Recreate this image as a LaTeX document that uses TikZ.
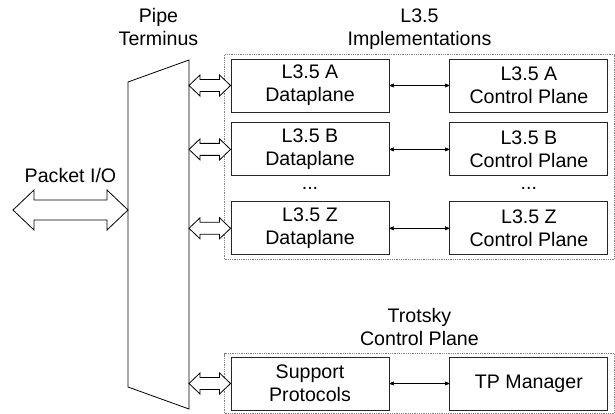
\documentclass[tikz,border=0pt]{standalone}
\usepackage{fontspec}
\setmainfont{Liberation Sans}
\usetikzlibrary{shapes,arrows,positioning,fit,calc}
\tikzset{%
blk/.style={draw=black!85, line width=0.9pt, minimum width=158pt, minimum height=53pt, inner sep=0pt, align=center, font=\fontsize{19.6}{23.3}\selectfont},
grp/.style={draw=gray, densely dotted, line width=0.8pt, inner xsep=6pt, inner ysep=4pt},
ttl/.style={align=center, inner sep=0pt, text depth=0pt, font=\fontsize{19.6}{23.3}\selectfont},
pt/.style={draw=black, line width=0.7pt, <->, >=stealth'},
fat/.style={draw=black, line width=0.8pt, fill=white, line join=miter}
}
\newcommand{\fatarrow}[5]{% ends, head length, half head, half shaft
\path[fat] let \p1=(#1), \p2=(#2) in (\x1,\y1) -- (\x1+#3,\y1+#4) -- (\x1+#3,\y1+#5) -- (\x2-#3,\y2+#5) -- (\x2-#3,\y2+#4) -- (\x2,\y2) -- (\x2-#3,\y2-#4) -- (\x2-#3,\y2-#5) -- (\x1+#3,\y1-#5) -- (\x1+#3,\y1-#4) -- cycle;}

\begin{document}
\begin{tikzpicture}[x=1pt, y=-1pt, node distance=60pt]
	\useasboundingbox (0,0) rectangle (615,414);
	% pipe terminus
	\coordinate (ptTL) at (128,82);
	\coordinate (ptTR) at (189,60);
	\coordinate (ptBR) at (189,409);
	\coordinate (ptBL) at (128,387);
	\draw[line width=0.8pt] (ptTL) -- (ptTR) -- (ptBR) -- (ptBL) -- cycle;
	\coordinate (ptTop) at ($(ptTL)!0.5!(ptTR)$);

	% L3.5 implementations
	\node[blk] (dA) at (310,85.5) {L3.5 A\\Dataplane};
	\node[blk] (cA) [right=of dA] {L3.5 A\\Control Plane};
	\node[blk] (dB) [below=10pt of dA] {L3.5 B\\Dataplane};
	\node[blk] (cB) [right=of dB] {L3.5 B\\Control Plane};
	\node[blk] (dZ) [below=25pt of dB] {L3.5 Z\\Dataplane};
	\node[blk] (cZ) [right=of dZ] {L3.5 Z\\Control Plane};
	\node[ttl] (dDots) at ($(dB.south)!0.5!(dZ.north)$) {...};
	\node[ttl] (cDots) at ($(cB.south)!0.5!(cZ.north)$) {...};
	\node[grp, fit=(dA) (cZ)] (impl) {};
	\node[ttl, above=8pt of impl] (implT) {L3.5\\Implementations};
	\node[ttl, anchor=south] (ptT) at (ptTop |- implT.south) {Pipe\\Terminus};

	% trotsky control plane
	\node[blk] (sp) at (310,383.5) {Support\\Protocols};
	\node[blk] (tpm) [right=of sp] {TP Manager};
	\node[grp, inner ysep=3pt, fit=(sp) (tpm)] (trot) {};
	\node[ttl, above=7.5pt of trot] (trotT) {Trotsky\\Control Plane};

	\draw[pt] (dA) -- (cA);
	\draw[pt] (dB) -- (cB);
	\draw[pt] (dZ) -- (cZ);
	\draw[pt] (sp) -- (tpm);

	\fatarrow{ptTR |- dA}{dA.west}{11pt}{10.5pt}{6pt}
	\fatarrow{ptTR |- dB}{dB.west}{11pt}{10.5pt}{6pt}
	\fatarrow{ptTR |- dZ}{dZ.west}{11pt}{10.5pt}{6pt}
	\fatarrow{ptTR |- sp}{sp.west}{11pt}{10.5pt}{6pt}

	% packet I/O
	\coordinate (pio) at (13,210);
	\fatarrow{pio}{ptTL |- pio}{21pt}{20pt}{10pt}
	\coordinate (pioM) at ($(pio)!0.5!(ptTL |- pio)$);
	\node[ttl, above=27pt of pioM] (pioT) {Packet I/O};
\end{tikzpicture}
\end{document}
